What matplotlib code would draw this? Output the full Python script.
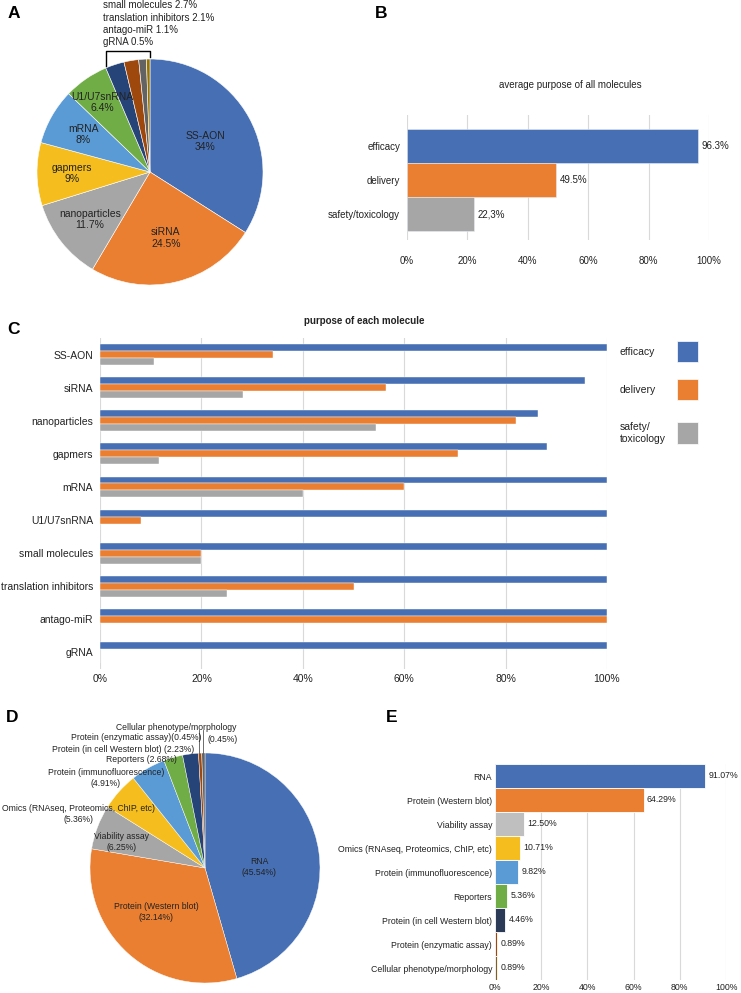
import matplotlib
matplotlib.use("Agg")
import matplotlib.pyplot as plt
import numpy as np
from matplotlib.patches import Rectangle
from matplotlib.lines import Line2D

plt.rcParams['font.family'] = ['Liberation Sans', 'DejaVu Sans']
plt.rcParams['text.color'] = '#222222'

W, H, DPI = 741, 993, 100

# ---------------- data ----------------
# Panel A
a_labels = ['SS-AON', 'siRNA', 'nanoparticles', 'gapmers', 'mRNA', 'U1/U7snRNA',
            'small molecules', 'translation inhibitors', 'antago-miR', 'gRNA']
a_values = [34, 24.5, 11.7, 9, 8, 6.4, 2.7, 2.1, 1.1, 0.5]
a_colors = ['#4770B4', '#EA7F31', '#A6A6A6', '#F5BE1E', '#5B9BD5', '#70AD47',
            '#264478', '#9E480E', '#636363', '#997300']

# Panel B
b_categories = ['efficacy', 'delivery', 'safety/toxicology']
b_values = [96.3, 49.5, 22.3]
b_value_text = ['96.3%', '49.5%', '22,3%']
b_colors = ['#4770B4', '#EA7F31', '#A6A6A6']

# Panel C
c_molecules = ['SS-AON', 'siRNA', 'nanoparticles', 'gapmers', 'mRNA', 'U1/U7snRNA',
               'small molecules', 'translation inhibitors', 'antago-miR', 'gRNA']
c_efficacy = [100, 95.7, 86.4, 88.2, 100, 100, 100, 100, 100, 100]
c_delivery = [34.2, 56.5, 82.0, 70.6, 60, 8.1, 20, 50, 100, 0]
c_safety = [10.7, 28.2, 54.5, 11.6, 40, 0, 20, 25, 0, 0]
c_series = ['efficacy', 'delivery', 'safety/\ntoxicology']
c_colors = ['#4770B4', '#EA7F31', '#A6A6A6']

# Panel D
d_labels = ['RNA', 'Protein (Western blot)', 'Viability assay',
            'Omics (RNAseq, Proteomics, ChIP, etc)', 'Protein (immunofluorescence)',
            'Reporters', 'Protein (in cell Western blot)', 'Protein (enzymatic assay)',
            'Cellular phenotype/morphology']
d_values = [45.54, 32.14, 6.25, 5.36, 4.91, 2.68, 2.23, 0.45, 0.45]
d_colors = ['#4770B4', '#EA7F31', '#A6A6A6', '#F5BE1E', '#5B9BD5', '#70AD47',
            '#264478', '#9E480E', '#636363']

# Panel E
e_labels = ['RNA', 'Protein (Western blot)', 'Viability assay',
            'Omics (RNAseq, Proteomics, ChIP, etc)', 'Protein (immunofluorescence)',
            'Reporters', 'Protein (in cell Western blot)', 'Protein (enzymatic assay)',
            'Cellular phenotype/morphology']
e_values = [91.07, 64.29, 12.50, 10.71, 9.82, 5.36, 4.46, 0.89, 0.89]
e_colors = ['#4770B4', '#EA7F31', '#BFBFBF', '#F5BE1E', '#5B9BD5', '#70AD47',
            '#2B3A57', '#9E480E', '#806020']

pct_ticks = [0, 20, 40, 60, 80, 100]

# ---------------- helpers ----------------
fig = plt.figure(figsize=(W / DPI, H / DPI), dpi=DPI)


def rect(x, y, w, h):
    return [x / W, 1 - (y + h) / H, w / W, h / H]


def ftext(x, y, s, **kw):
    kw.setdefault('ha', 'center')
    kw.setdefault('va', 'center')
    return fig.text(x / W, 1 - y / H, s, **kw)


GRID = '#d9d9d9'


def style_bar_axes(ax, fs, xpad, ypad):
    ax.set_xlim(0, 100)
    ax.set_xticks(pct_ticks)
    ax.set_xticklabels([f'{t}%' for t in pct_ticks])
    ax.grid(axis='x', color=GRID, linewidth=0.8)
    ax.set_axisbelow(True)
    for s in ax.spines.values():
        s.set_visible(False)
    ax.tick_params(axis='both', length=0, labelsize=fs, colors='#222222')
    ax.tick_params(axis='x', pad=xpad)
    ax.tick_params(axis='y', pad=ypad)


# ---------------- panel letters ----------------
for L, (x, y) in {'A': (14, 14), 'B': (381, 14), 'C': (13, 330),
                  'D': (12, 717), 'E': (392, 717)}.items():
    ftext(x, y, L, fontsize=12.5, fontweight='bold', color='black')

# ---------------- Panel A ----------------
axA = fig.add_axes(rect(150 - 113, 172 - 113, 226, 226))
wedgesA, _ = axA.pie(a_values, colors=a_colors, startangle=90, counterclock=False,
                     radius=1, wedgeprops=dict(edgecolor='white', linewidth=0.4))
axA.set_xlim(-1, 1)
axA.set_ylim(-1, 1)
axA.set_aspect('equal')
axA.axis('off')
a_rdist = [0.56, 0.6, 0.68, 0.69, 0.68, 0.75]
for w, lab, v, r in zip(wedgesA[:6], a_labels[:6], a_values[:6], a_rdist):
    mid = np.deg2rad((w.theta1 + w.theta2) / 2)
    axA.text(r * np.cos(mid), r * np.sin(mid), f'{lab}\n{v:g}%', ha='center', va='center',
             fontsize=7.5, linespacing=1.15)
# small slices text + bracket
for i, (lab, v) in enumerate(zip(a_labels[6:], a_values[6:])):
    ftext(103, 5.5 + 12.3 * i, f'{lab} {v:g}%', ha='left', fontsize=7)
start_small = np.deg2rad(wedgesA[6].theta2)
xl = 1.0 * np.cos(start_small)
yl = 1.0 * np.sin(start_small)
axA.add_line(Line2D([xl, xl, 0, 0], [yl + 0.02, 1.07, 1.07, 1.015], color='black',
                    linewidth=1.0, clip_on=False))

# ---------------- Panel B ----------------
ftext(570, 85, 'average purpose of all molecules', fontsize=7)
axB = fig.add_axes(rect(407, 115, 302, 125))
yB = np.arange(len(b_values))
axB.barh(yB, b_values, height=1.0, color=b_colors, edgecolor='#e8ecf4', linewidth=0.4)
axB.set_ylim(2.76, -0.91)
axB.set_yticks(yB)
axB.set_yticklabels(b_categories)
style_bar_axes(axB, 7, 11.5, 5)
for yy, v, t in zip(yB, b_values, b_value_text):
    axB.annotate(t, (v, yy), xytext=(2.5, 0), textcoords='offset points',
                 ha='left', va='center', fontsize=7)

# ---------------- Panel C ----------------
ftext(364, 321, 'purpose of each molecule', fontsize=7, fontweight='bold')
axC = fig.add_axes(rect(100, 338, 507, 331))
yC = np.arange(len(c_molecules))
bh = 0.21
for k, (vals, col) in enumerate(zip([c_efficacy, c_delivery, c_safety], c_colors)):
    axC.barh(yC + (k - 1) * bh, vals, height=bh, color=col, edgecolor='white',
             linewidth=0.3)
axC.set_ylim(9.5, -0.5)
axC.set_yticks(yC)
axC.set_yticklabels(c_molecules)
style_bar_axes(axC, 7.5, 3.6, 5)

# legend (text left, swatch right)
leg_y = [352, 390, 433]
for lab, col, yy in zip(c_series, c_colors, leg_y):
    ftext(620, yy, lab, ha='left', fontsize=7.5, linespacing=1.3)
    fig.add_artist(Rectangle((677 / W, 1 - (yy + 10.5) / H), 21 / W, 21 / H,
                             transform=fig.transFigure, facecolor=col,
                             edgecolor='white', linewidth=0.5))

# ---------------- Panel D ----------------
axD = fig.add_axes(rect(205 - 115, 868 - 115, 230, 230))
wedgesD, _ = axD.pie(d_values, colors=d_colors, startangle=90, counterclock=False,
                     radius=1, wedgeprops=dict(edgecolor='white', linewidth=0.3))
axD.set_xlim(-1, 1)
axD.set_ylim(-1, 1)
axD.set_aspect('equal')
axD.axis('off')
fsD = 6.2
d_pos = [(259, 867), (156, 912), (122, 842), (79, 814), (106, 778)]
for (x, y), lab, v in zip(d_pos, d_labels[:5], d_values[:5]):
    ftext(x, y, f'{lab}\n({v:.2f}%)', fontsize=fsD, linespacing=1.25)
ftext(141, 760, f'{d_labels[5]} ({d_values[5]:.2f}%)', fontsize=fsD)
ftext(123, 750, f'{d_labels[6]} ({d_values[6]:.2f}%)', fontsize=fsD)
ftext(136, 737, f'{d_labels[7]}({d_values[7]:.2f}%)', fontsize=fsD)
ftext(176, 728, d_labels[8], fontsize=fsD)
ftext(207, 739, f'({d_values[8]:.2f}%)', ha='left', fontsize=fsD)
for w, dx in zip(wedgesD[7:], [-0.012, 0.0]):
    mid = np.deg2rad((w.theta1 + w.theta2) / 2)
    x0 = np.cos(mid) + dx
    axD.add_line(Line2D([x0, x0], [np.sin(mid), 1.2], color='#555555', linewidth=0.6,
                        clip_on=False))

# ---------------- Panel E ----------------
axE = fig.add_axes(rect(495, 764, 231, 216))
yE = np.arange(len(e_values))
axE.barh(yE, e_values, height=1.0, color=e_colors, edgecolor='white', linewidth=0.6)
axE.set_ylim(8.5, -0.5)
axE.set_yticks(yE)
axE.set_yticklabels(e_labels)
style_bar_axes(axE, 6.3, 2.5, 2)
for yy, v in zip(yE, e_values):
    axE.annotate(f'{v:.2f}%', (v, yy), xytext=(2.5, 0), textcoords='offset points',
                 ha='left', va='center', fontsize=6.3)

fig.savefig('out.png', dpi=DPI)
